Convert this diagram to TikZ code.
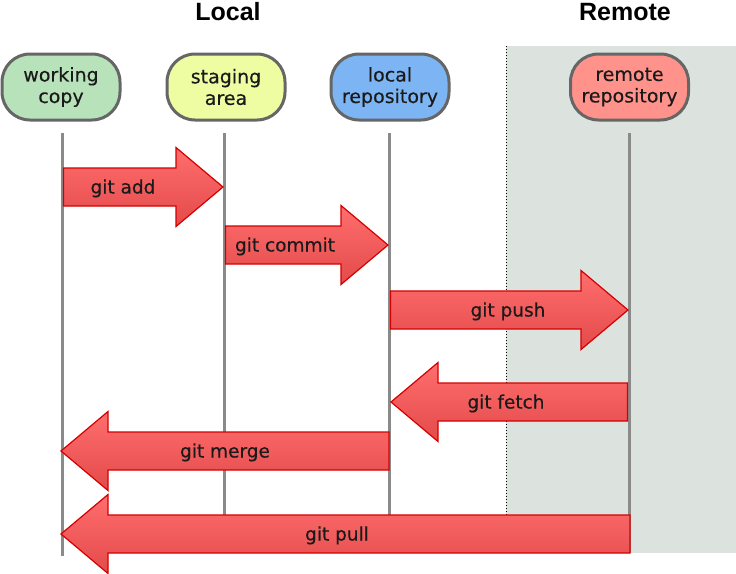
\documentclass[tikz,border=0pt]{standalone}
\usepackage{fontspec}
\setmainfont{DejaVu Sans}
\newfontfamily\labelfont[FakeBold=0.35]{DejaVu Sans}
\newfontfamily\titlefont{Liberation Sans}
\usetikzlibrary{calc}
\definecolor{wcfill}{HTML}{B8E2BA}
\definecolor{safill}{HTML}{EEFDA2}
\definecolor{lrfill}{HTML}{7DB5F4}
\definecolor{rrfill}{HTML}{FF928A}
\definecolor{nodeedge}{HTML}{666666}
\definecolor{lifelinecol}{HTML}{8A8A8A}
\definecolor{remotebg}{HTML}{DCE3DE}
\definecolor{arrtop}{HTML}{FF6E6E}
\definecolor{arrbot}{HTML}{E44A4A}
\definecolor{arredge}{HTML}{D40000}
\definecolor{txt}{HTML}{1A1A1A}
\newcommand\gitarrow[6]{%
  \pgfmathsetmacro\hb{#4-47*sign(#4-#3)}%
  \path[gitarrow] (#3,#2-19) -- (\hb,#2-19) -- (\hb,#2-39.5) -- (#4,#2)
     -- (\hb,#2+39.5) -- (\hb,#2+19) -- (#3,#2+19) -- cycle;
  \node[arrlabel] (#1) at (#5,#2+6.5) {#6};
}
\begin{document}
\begin{tikzpicture}[x=1pt,y=-1pt,
  repo/.style={draw=nodeedge, line width=3pt, rounded corners=28pt,
    minimum width=118pt, minimum height=66pt, inner sep=0pt, align=center,
    font=\labelfont\fontsize{19}{21.5}\selectfont, text=txt,
    execute at begin node={\rule{0pt}{18.5pt}}},
  lifeline/.style={draw=lifelinecol, line width=3pt},
  gitarrow/.style={draw=arredge, line width=1.2pt, top color=arrtop,
    bottom color=arrbot, line join=miter},
  arrlabel/.style={anchor=base, font=\labelfont\fontsize{18.5}{21}\selectfont, text=txt, inner sep=0pt},
  title/.style={font=\titlefont\bfseries\fontsize{25}{28}\selectfont, anchor=base, inner sep=0pt}]
\useasboundingbox (0,0) rectangle (736,573);
% remote area
\fill[remotebg] (506,46) rectangle (736,553);
\coordinate (sepTop) at (506,46);
\coordinate (sepBot) at (506,553);
\draw[line width=1pt, dash pattern=on 1.2pt off 1.8pt] (sepTop) -- (sepBot);
% titles
\node[title] (local) at (228,20) {Local};
\node[title] (remote) at (625,20) {Remote};
% repositories
\node[repo, fill=wcfill] (wc) at (61,87) {working\\copy};
\node[repo, fill=safill] (sa) at (226,87) {staging\\area};
\node[repo, fill=lrfill] (lr) at (390,87) {local\\repository};
\node[repo, fill=rrfill] (rr) at (629.5,87) {remote\\repository};
% lifelines
\coordinate (wcT) at (62,133);  \coordinate (wcB) at (62,556);
\coordinate (saT) at (224,133); \coordinate (saB) at (224,553);
\coordinate (lrT) at (389,133); \coordinate (lrB) at (389,553);
\coordinate (rrT) at (629,133); \coordinate (rrB) at (629,553);
\draw[lifeline] (wcT) -- (wcB);
\draw[lifeline] (saT) -- (saB);
\draw[lifeline] (lrT) -- (lrB);
\draw[lifeline] (rrT) -- (rrB);
% commands
\gitarrow{add}{187}{63.5}{223}{123}{git add}
\gitarrow{commit}{245}{225.5}{388}{285}{git commit}
\gitarrow{push}{310}{390.5}{628}{508}{git push}
\gitarrow{fetch}{402}{627.5}{391}{506}{git fetch}
\gitarrow{merge}{451}{389}{61}{225}{git merge}
\gitarrow{pull}{534}{630}{61}{337}{git pull}
\end{tikzpicture}
\end{document}
